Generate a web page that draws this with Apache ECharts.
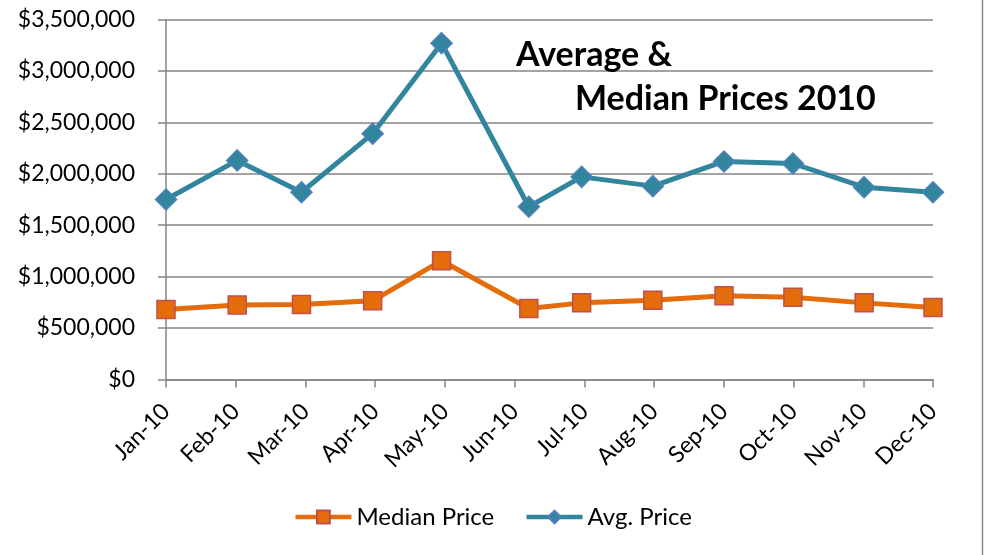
<!DOCTYPE html>
<html>
<head>
<meta charset="utf-8">
<script src="https://cdn.jsdelivr.net/npm/echarts@6/dist/echarts.min.js"></script>
<style>
  html, body { margin: 0; padding: 0; background: #fff; }
  #chart { width: 985px; height: 555px; }
</style>
</head>
<body>
<div id="chart"></div>
<script>
// dates of the data points (Excel date axis, June point sits a week in)
const dates = ["2010-01-01", "2010-02-01", "2010-03-01", "2010-04-01", "2010-05-01", "2010-06-08",
  "2010-07-01", "2010-08-01", "2010-09-01", "2010-10-01", "2010-11-01", "2010-12-01"];
const monthLabels = ["Jan-10", "Feb-10", "Mar-10", "Apr-10", "May-10", "Jun-10",
  "Jul-10", "Aug-10", "Sep-10", "Oct-10", "Nov-10", "Dec-10"];
const medianPrice = [680000, 725000, 730000, 765000, 1155000, 690000, 745000, 770000, 815000, 800000, 745000, 700000];
const avgPrice = [1750000, 2130000, 1820000, 2390000, 3270000, 1680000, 1970000, 1880000, 2120000, 2100000, 1870000, 1820000];

const gray = "#858585";
const font = "Lato, 'Noto Sans', sans-serif";

function pairs(vals) {
  return vals.map((v, i) => [dates[i], v]);
}

let myChart = echarts.init(document.getElementById("chart"));
let option = {
  backgroundColor: "#ffffff",
  animation: false,
  title: [
    {
      text: "Average &",
      left: 516,
      top: 38,
      padding: 0,
      textStyle: { fontFamily: font, fontSize: 34, fontWeight: "bold", color: "#000" },
    },
    {
      text: "Median Prices 2010",
      left: 575,
      top: 82,
      padding: 0,
      textStyle: { fontFamily: font, fontSize: 34, fontWeight: "bold", color: "#000" },
    },
  ],
  legend: {
    bottom: 21,
    left: "center",
    itemWidth: 56,
    itemHeight: 16,
    itemGap: 30,
    lineStyle: { width: 4.5 },
    textStyle: { fontFamily: font, fontSize: 24, color: "#000" },
    data: ["Median Price", "Avg. Price"],
  },
  grid: {
    left: 166,
    right: 52,
    top: 19.5,
    bottom: 175.5,
    containLabel: false,
  },
  xAxis: [
    {
      // month ticks and labels
      type: "category",
      boundaryGap: false,
      data: monthLabels,
      axisLine: { lineStyle: { color: gray, width: 1.5 } },
      axisTick: { show: true, length: 8, lineStyle: { color: gray, width: 1.5 } },
      axisLabel: {
        interval: 0,
        rotate: 45,
        margin: 28,
        fontFamily: font,
        fontSize: 23,
        color: "#000",
      },
      splitLine: { show: false },
    },
    {
      // date scale the points are placed on
      type: "time",
      min: "2010-01-01",
      max: "2010-12-01",
      show: false,
    },
  ],
  yAxis: {
    type: "value",
    min: 0,
    max: 3500000,
    interval: 500000,
    axisLine: { show: true, lineStyle: { color: gray, width: 1.5 } },
    axisTick: { show: true, length: 8, lineStyle: { color: gray, width: 1.5 } },
    axisLabel: {
      margin: 31,
      fontFamily: font,
      fontSize: 23,
      color: "#000",
      formatter: (v) => "$" + v.toLocaleString("en-US"),
    },
    splitLine: { show: true, lineStyle: { color: gray, width: 1.5 } },
  },
  series: [
    {
      name: "Median Price",
      type: "line",
      xAxisIndex: 1,
      symbol: "rect",
      symbolSize: 18,
      lineStyle: { color: "#E46C0A", width: 5 },
      itemStyle: { color: "#E46C0A", borderColor: "#C0504D", borderWidth: 1.5 },
      data: pairs(medianPrice),
      z: 3,
    },
    {
      name: "Avg. Price",
      type: "line",
      xAxisIndex: 1,
      symbol: "diamond",
      symbolSize: 21,
      lineStyle: { color: "#31859C", width: 5 },
      itemStyle: { color: "#31859C", borderColor: "#4F81BD", borderWidth: 1.5 },
      data: pairs(avgPrice),
      z: 3,
    },
  ],
  graphic: [
    {
      type: "line",
      shape: { x1: 982.5, y1: 0, x2: 982.5, y2: 555 },
      style: { stroke: "#8a8a8a", lineWidth: 1.5 },
    },
  ],
};
myChart.setOption(option);
</script>
</body>
</html>
